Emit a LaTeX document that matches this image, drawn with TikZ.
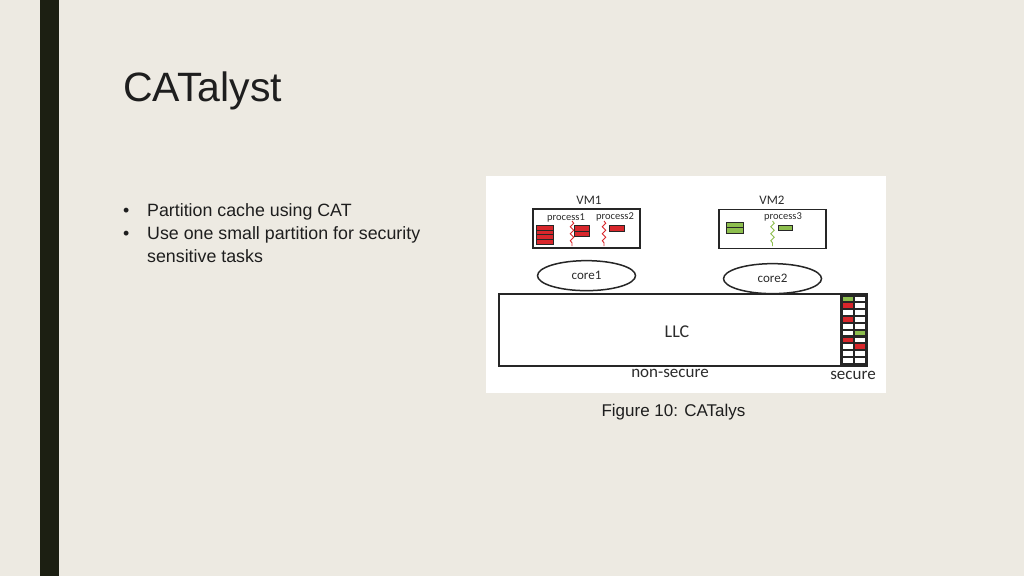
\documentclass[tikz,border=0pt]{standalone}
\usepackage{fontspec}
\setmainfont{Liberation Sans}
\newfontfamily\figfont{Carlito}
\usetikzlibrary{positioning,shapes.geometric,decorations.pathmorphing}
\definecolor{slidebg}{HTML}{EDEAE2}
\definecolor{slidebar}{HTML}{1C1F12}
\definecolor{titleink}{HTML}{1E1E1E}
\definecolor{figink}{HTML}{2C2C2C}
\definecolor{catred}{HTML}{D8262B}
\definecolor{catgreen}{HTML}{8DBE4E}
\newcommand{\stripestack}[6]{%
  \foreach \k in {1,...,#5}
    \draw[cell, fill=#6] (#1,{#2+(\k-1)*#4}) rectangle ++(#3,#4);
}
\tikzset{
  vmbox/.style={
    rectangle,
    draw=black!85,
    line width=1.8pt,
    minimum width=107pt,
    minimum height=39pt
  },
  coreshape/.style={
    ellipse,
    draw=black!85,
    line width=1.5pt,
    minimum width=98pt,
    minimum height=30pt,
    inner sep=0pt,
    text=figink,
    font=\figfont\fontsize{13}{15}\selectfont
  },
  llcbox/.style={
    rectangle,
    draw=black!85,
    line width=2pt,
    minimum width=368pt,
    minimum height=72pt
  },
  figlbl/.style={
    anchor=base,
    text=figink,
    inner sep=0pt,
    font=\figfont\fontsize{13}{15}\selectfont
  },
  proclbl/.style={
    figlbl,
    font=\figfont\fontsize{10.5}{12}\selectfont
  },
  bodytext/.style={
    anchor=base west,
    inner sep=0pt,
    text=titleink,
    font=\fontsize{17.8}{21}\selectfont
  },
  cell/.style={
    draw=black!85,
    line width=1pt
  },
  wave/.style={
    decorate,
    decoration={snake, segment length=7pt, amplitude=1.7pt},
    line width=0.9pt
  }
}
\begin{document}
\begin{tikzpicture}[x=1pt, y=-1pt]
  \useasboundingbox (0,0) rectangle (1024,576);
  \fill[slidebg] (0,0) rectangle (1024,576);
  \fill[slidebar] (40,0) rectangle (59,576);

  % slide text
  \node[anchor=base west, inner sep=0pt, text=titleink, font=\fontsize{41}{46}\selectfont] (title) at (123,101) {CATalyst};
  \node[bodytext] (dot1) at (123,216) {\textbullet};
  \node[bodytext] (item1) at (147,216) {Partition cache using CAT};
  \node[bodytext] (dot2) at (123,239) {\textbullet};
  \node[bodytext] (item2) at (147,239) {Use one small partition for security};
  \node[bodytext] (item3) at (147,262) {sensitive tasks};

  % figure
  \fill[white] (486,176) rectangle (886,393);
  \node[vmbox] (vm1) at (586.5,228.5) {};
  \node[vmbox] (vm2) at (772.5,229) {};
  \node[figlbl] (vm1lbl) at (589,204.5) {VM1};
  \node[figlbl] (vm2lbl) at (772,204.5) {VM2};
  \node[proclbl] (p1lbl) at (566,220) {process1};
  \node[proclbl] (p2lbl) at (615,219.5) {process2};
  \node[proclbl] (p3lbl) at (783,219.5) {process3};

  \stripestack{536.5}{225.5}{17}{4.7}{4}{catred}
  \stripestack{574}{225.5}{15.5}{5.6}{2}{catred}
  \stripestack{609}{225.5}{15.5}{5.6}{1}{catred}
  \stripestack{726}{222}{17.5}{5.5}{2}{catgreen}
  \stripestack{778}{225}{14.5}{5.2}{1}{catgreen}

  \draw[wave, catred] (572,221) -- (572,246);
  \draw[wave, catred] (604,221) -- (604,246);
  \draw[wave, catgreen] (772.5,221) -- (772.5,246);

  \node[coreshape, below=11pt of vm1] (core1) {core1};
  \node[coreshape, below=13.5pt of vm2] (core2) {core2};

  \node[llcbox] (llc) at (682.7,330) {};
  \node[figlbl, font=\figfont\fontsize{18}{21}\selectfont] (llclbl) at (677,337.5) {LLC};
  \node[figlbl, font=\figfont\fontsize{17}{20}\selectfont] (nslbl) at (670,377.5) {non-secure};
  \node[figlbl, font=\figfont\fontsize{17}{20}\selectfont] (slbl) at (853,379) {secure};

  % secure ways
  \fill[black!85] (840,294) rectangle (866.7,366);
  \foreach \c [count=\r] in {catgreen,catred,white,catred,white,white,catred,white,white,white}
    \fill[\c] (842.7,{296.5+(\r-1)*6.85}) rectangle ++(10,4.6);
  \foreach \c [count=\r] in {white,white,white,white,white,catgreen,white,catred,white,white}
    \fill[\c] (855,{296.5+(\r-1)*6.85}) rectangle ++(9.5,4.6);

  \node[anchor=base, inner sep=0pt, text=titleink, font=\fontsize{17}{20}\selectfont] (caption) at (673.5,416) {Figure 10: CATalys};
\end{tikzpicture}
\end{document}
